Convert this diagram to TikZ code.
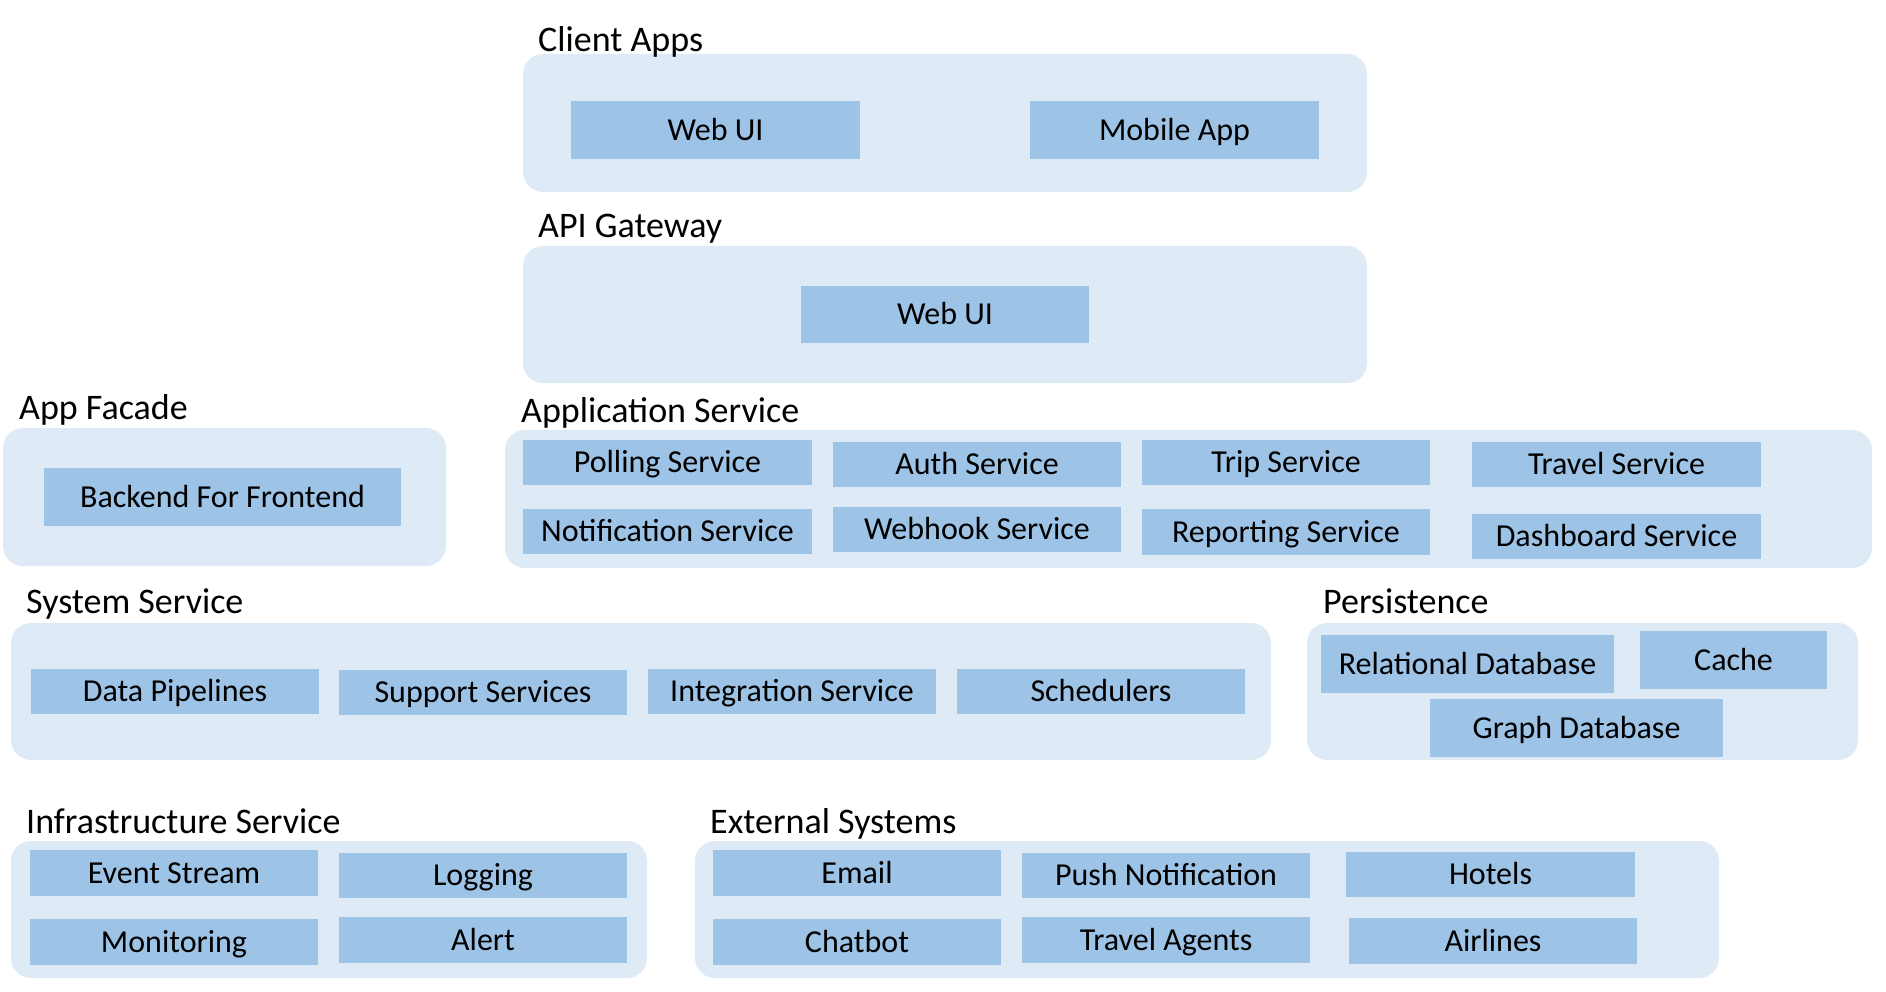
\documentclass[tikz,border=0pt]{standalone}
\usepackage{fontspec}
\setmainfont{Carlito}
\definecolor{outerfill}{HTML}{DEEBF7}
\definecolor{innerfill}{HTML}{9DC3E6}
\tikzset{
  outerbox/.style={fill=outerfill, draw=none, rounded corners=20pt, inner sep=0pt},
  innerbox/.style={fill=innerfill, draw=none, inner sep=0pt, text height=20.6pt, text depth=0pt, font=\fontsize{32}{38}\selectfont},
  titletext/.style={anchor=base west, inner sep=0pt, font=\fontsize{36}{43}\selectfont}
}
% #1 style, #2 name, #3 x1, #4 y1, #5 x2, #6 y2, #7 text
\newcommand\boxat[7]{\node[#1, anchor=center, minimum width={(#5-#3)*1pt}, minimum height={(#6-#4)*1pt}] (#2) at ({(#3+#5)/2},{(#4+#6)/2}) {#7};}
\begin{document}
\begin{tikzpicture}[x=1pt,y=-1pt]
\useasboundingbox (0,0) rectangle (1886,992);
% outer groups
\boxat{outerbox}{clientbox}{523}{54}{1367}{192}{}
\boxat{outerbox}{apibox}{523}{246}{1367}{383}{}
\boxat{outerbox}{facadebox}{3}{428}{446}{566}{}
\boxat{outerbox}{appbox}{505}{430}{1872}{568}{}
\boxat{outerbox}{sysbox}{11}{623}{1271}{760}{}
\boxat{outerbox}{persbox}{1307}{623}{1858}{760}{}
\boxat{outerbox}{infrabox}{11}{841}{647}{978}{}
\boxat{outerbox}{extbox}{695}{841}{1719}{978}{}
% titles
\node[titletext] (tclient) at (538,52) {Client Apps};
\node[titletext] (tapi) at (538,238) {API Gateway};
\node[titletext] (tfacade) at (19,419) {App Facade};
\node[titletext] (tapp) at (521,422) {Application Service};
\node[titletext] (tsys) at (26,613) {System Service};
\node[titletext] (tpers) at (1323,613) {Persistence};
\node[titletext] (tinfra) at (26,833) {Infrastructure Service};
\node[titletext] (text) at (710,833) {External Systems};
% client apps
\boxat{innerbox}{webui}{571}{101}{860}{159}{Web UI}
\boxat{innerbox}{mobile}{1030}{101}{1319}{159}{Mobile App}
% api gateway
\boxat{innerbox}{gwwebui}{801}{286}{1089}{343}{Web UI}
% app facade
\boxat{innerbox}{bff}{44}{468}{401}{526}{Backend For Frontend}
% application service
\boxat{innerbox}{polling}{523}{440}{812}{485}{Polling Service}
\boxat{innerbox}{auth}{833}{442}{1121}{487}{Auth Service}
\boxat{innerbox}{trip}{1142}{440}{1430}{485}{Trip Service}
\boxat{innerbox}{travel}{1472}{442}{1761}{487}{Travel Service}
\boxat{innerbox}{notif}{523}{509}{812}{554}{Notification Service}
\boxat{innerbox}{webhook}{833}{507}{1121}{552}{Webhook Service}
\boxat{innerbox}{reporting}{1142}{509}{1430}{555}{Reporting Service}
\boxat{innerbox}{dashboard}{1472}{514}{1761}{559}{Dashboard Service}
% system service
\boxat{innerbox}{pipelines}{31}{669}{319}{714}{Data Pipelines}
\boxat{innerbox}{support}{339}{670}{627}{715}{Support Services}
\boxat{innerbox}{integration}{648}{669}{936}{714}{Integration Service}
\boxat{innerbox}{schedulers}{957}{669}{1245}{714}{Schedulers}
% persistence
\boxat{innerbox}{reldb}{1321}{635}{1614}{693}{Relational Database}
\boxat{innerbox}{cache}{1640}{631}{1827}{689}{Cache}
\boxat{innerbox}{graphdb}{1430}{699}{1723}{757}{Graph Database}
% infrastructure
\boxat{innerbox}{eventstream}{30}{850}{318}{896}{Event Stream}
\boxat{innerbox}{logging}{339}{853}{627}{898}{Logging}
\boxat{innerbox}{monitoring}{30}{919}{318}{965}{Monitoring}
\boxat{innerbox}{alert}{339}{917}{627}{963}{Alert}
% external systems
\boxat{innerbox}{email}{713}{850}{1001}{896}{Email}
\boxat{innerbox}{chatbot}{713}{919}{1001}{965}{Chatbot}
\boxat{innerbox}{push}{1022}{853}{1310}{898}{Push Notification}
\boxat{innerbox}{agents}{1022}{917}{1310}{963}{Travel Agents}
\boxat{innerbox}{hotels}{1346}{852}{1635}{897}{Hotels}
\boxat{innerbox}{airlines}{1349}{918}{1637}{964}{Airlines}
\end{tikzpicture}
\end{document}
